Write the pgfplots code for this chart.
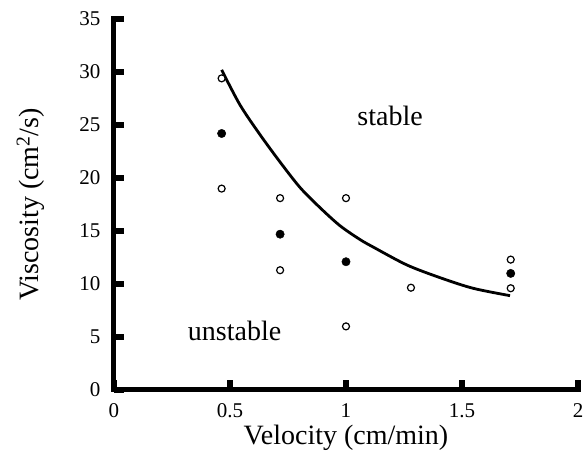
\documentclass[border=0pt]{standalone}
\usepackage{pgfplots}
\pgfplotsset{compat=1.18}
\usepackage{fontspec}
\setmainfont{Liberation Serif}

% Open circles: samples beside the threshold; filled circles: threshold runs
\pgfplotstableread{
x     y
0.464 29.4
0.464 19.0
0.716 18.1
0.716 11.3
1.000 18.1
1.000 6.0
1.280 9.65
1.710 12.3
1.710 9.6
}\opendata

\pgfplotstableread{
x     y
0.464 24.2
0.716 14.7
1.000 12.1
1.710 11.0
}\filleddata

% Stability boundary
\pgfplotstableread{
x     y
0.464 30.2
0.543 26.9
0.629 24.1
0.716 21.5
0.802 19.1
0.888 17.2
0.974 15.5
1.060 14.2
1.116 13.5
1.262 11.8
1.405 10.6
1.547 9.6
1.707 8.9
}\boundary

\begin{document}
\begin{tikzpicture}
\begin{axis}[
  name=ax,
  scale only axis,
  width=464pt, height=371pt,
  xmin=0, xmax=2, ymin=0, ymax=35,
  axis x line=bottom, axis y line=left,
  axis line style={line width=5pt, -, line cap=rect},
  xtick={0,0.5,1,1.5,2},
  ytick={0,5,...,35},
  tick align=inside,
  major tick length=10pt,
  every tick/.style={line width=5.5pt, black},
  /pgf/number format/assume math mode=true,
  ticklabel style={font=\fontsize{21}{24}\selectfont},
  xticklabel style={yshift=-10pt},
  yticklabel style={xshift=-10pt},
  xlabel={Velocity (cm/min)},
  ylabel={Viscosity (cm\textsuperscript{2}/s)},
  label style={font=\fontsize{28}{31}\selectfont},
  xlabel style={yshift=0pt},
  ylabel style={yshift=28pt},
  clip=false,
]
\addplot[black, line width=2.8pt, smooth, no markers] table[x=x,y=y] {\boundary};
\addplot[only marks, mark=*, mark size=3.5pt, mark options={fill=white, draw=black, line width=1.2pt}] table[x=x,y=y] {\opendata};
\addplot[only marks, mark=*, mark size=4.2pt, mark options={fill=black, draw=black}] table[x=x,y=y] {\filleddata};
\node[font=\fontsize{28}{31}\selectfont] at (axis cs:1.19,25.9) {stable};
\node[font=\fontsize{28}{31}\selectfont] at (axis cs:0.52,5.6) {unstable};
\end{axis}
\pgfresetboundingbox
\path[use as bounding box] ([shift={(-114pt,-65pt)}]ax.south west) rectangle ([shift={(6pt,19pt)}]ax.north east);
\end{tikzpicture}
\end{document}
